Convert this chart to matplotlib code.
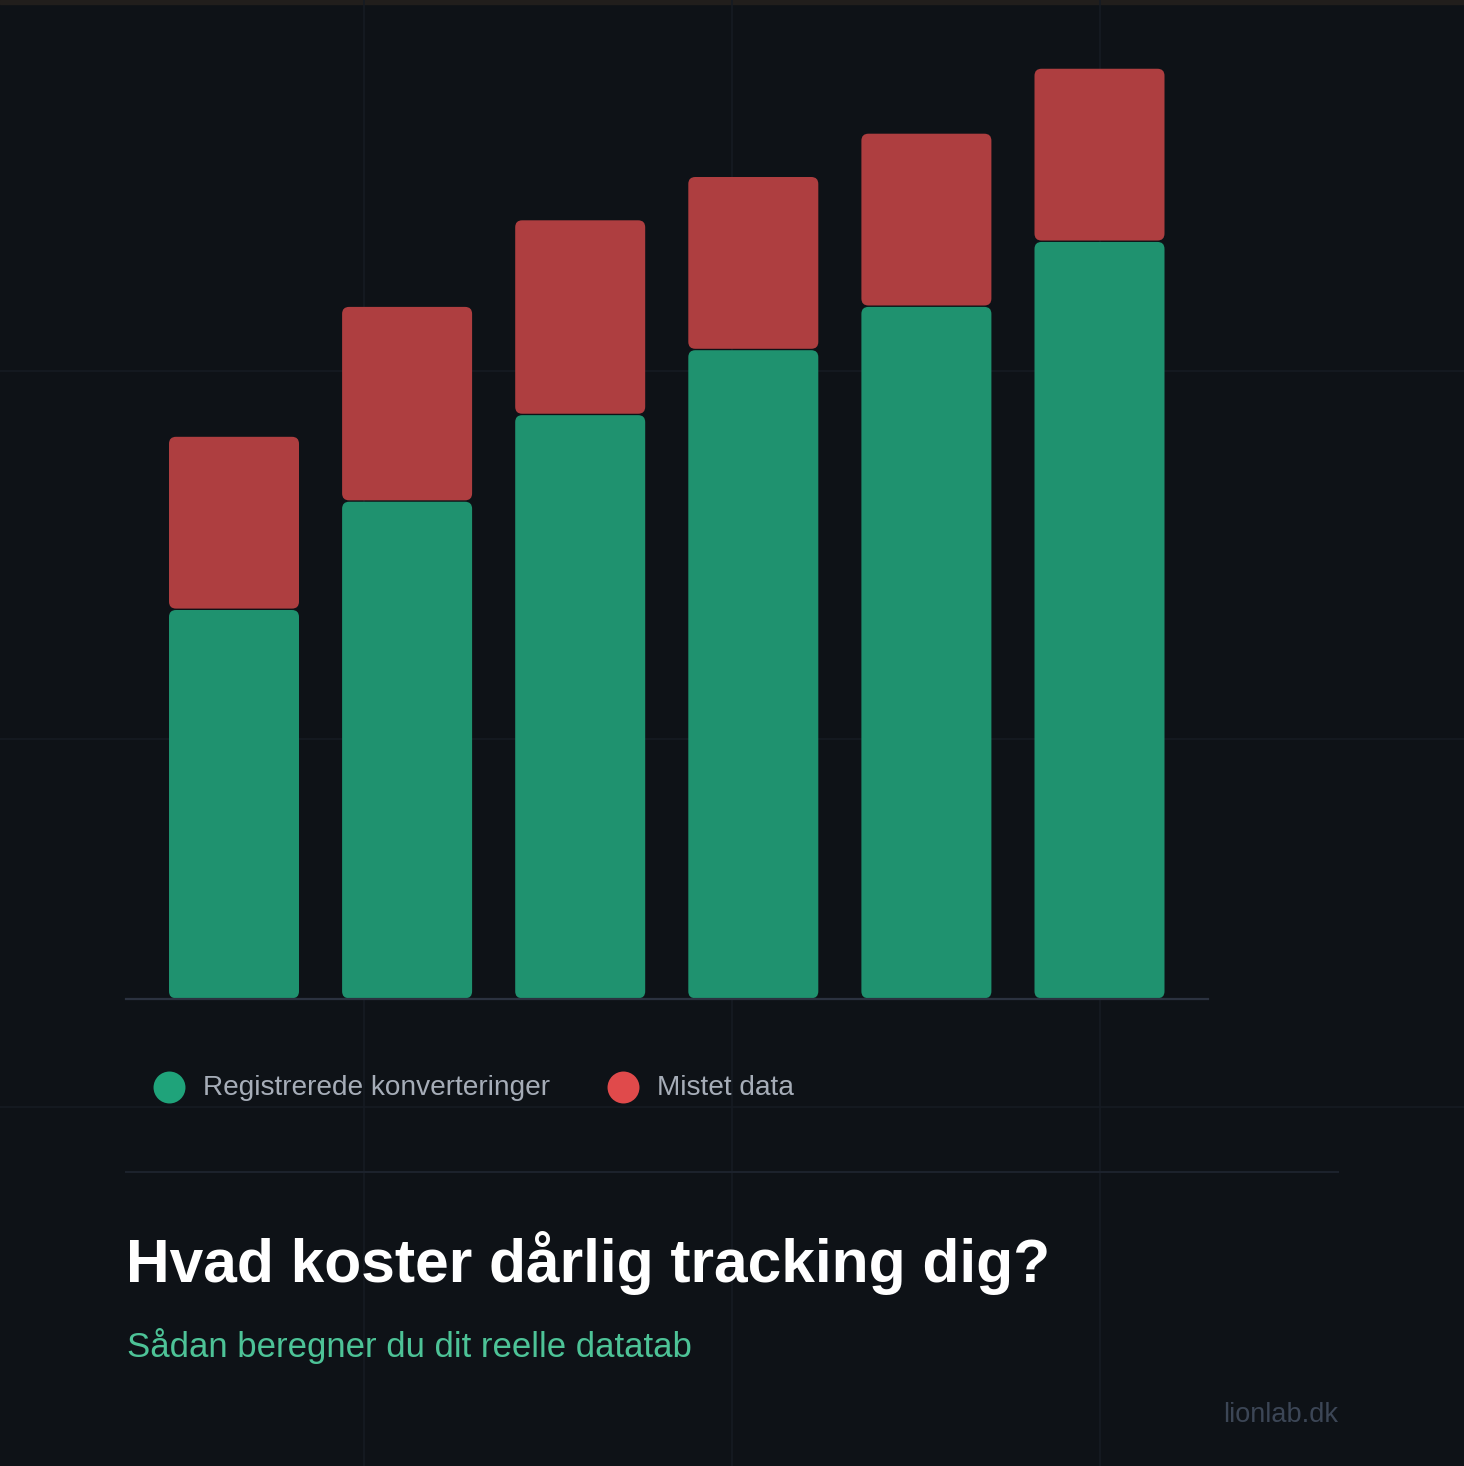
import matplotlib.pyplot as plt
from matplotlib.patches import FancyBboxPatch
from matplotlib.lines import Line2D

# data
periods = ["1", "2", "3", "4", "5", "6"]
registered = [90, 115, 135, 150, 160, 175]
lost = [40, 45, 45, 40, 40, 40]

legend_labels = ["Registrerede konverteringer", "Mistet data"]
title = "Hvad koster dårlig tracking dig?"
subtitle = "Sådan beregner du dit reelle datatab"
brand = "lionlab.dk"

BG = "#0e1217"
GREEN = "#1f926f"
RED = "#ae3e40"
GREEN_DOT = "#1fa37a"
RED_DOT = "#e04a4b"

W, H = 1464, 1466
fig = plt.figure(figsize=(W / 100, H / 100), dpi=100)
fig.patch.set_facecolor(BG)
plt.rcParams["font.family"] = ["Liberation Sans", "DejaVu Sans"]


def fx(px):
    return px / W


def fy(py):
    return 1 - py / H


# background grid + top strip
bg = fig.add_axes([0, 0, 1, 1], zorder=0)
bg.set_xlim(0, W)
bg.set_ylim(H, 0)
bg.axis("off")
for gx in [364, 732, 1100]:
    bg.axvline(gx, color="#161b23", lw=1.2)
for gy in [371, 739, 1107]:
    bg.axhline(gy, color="#161b23", lw=1.2)
bg.axhspan(0, 3.5, color="#211e1c")
bg.plot([126, 1338], [1172, 1172], color="#1c222c", lw=1.5)

# bar chart axes: bottom at 999px, 4.33 px per unit
ax_left, ax_right = 126, 1208
ax_bottom = 999
ymax = 230
px_per_unit = 4.33
ax_top = ax_bottom - ymax * px_per_unit
ax = fig.add_axes([fx(ax_left), fy(ax_bottom), fx(ax_right - ax_left),
                   (ax_bottom - ax_top) / H], zorder=1)
ax.set_facecolor("none")
x_unit = 173.1
x0 = 234
xs = list(range(len(periods)))
ax.set_xlim((ax_left - x0) / x_unit, (ax_right - x0) / x_unit)
ax.set_ylim(0, ymax)
for s in ["top", "right", "left"]:
    ax.spines[s].set_visible(False)
ax.spines["bottom"].set_color("#2b3240")
ax.spines["bottom"].set_linewidth(1.6)
ax.set_xticks([])
ax.set_yticks([])

bw = 130 / x_unit
b1 = ax.bar(xs, registered, width=bw, color=GREEN)
b2 = ax.bar(xs, lost, bottom=registered, width=bw, color=RED)

# rounded corners on every segment
aspect = x_unit / px_per_unit
r = 7 / x_unit
gap = 0.7 / px_per_unit
for bars in (b1, b2):
    for p in bars:
        x, y = p.get_x(), p.get_y()
        w, h = p.get_width(), p.get_height()
        fc = p.get_facecolor()
        p.remove()
        ax.add_patch(FancyBboxPatch((x, y + gap), w, h - 2 * gap,
                                    boxstyle=f"round,pad=0,rounding_size={r}",
                                    mutation_aspect=aspect, fc=fc, ec="none"))

# legend
lg_y = 1087
for cx, tx, lab, col in [(169, 203, legend_labels[0], GREEN_DOT),
                          (623, 657, legend_labels[1], RED_DOT)]:
    bg.add_line(Line2D([cx], [lg_y], marker="o", markersize=23,
                       color=col, markeredgewidth=0))
    bg.text(tx, lg_y + 1, lab, fontsize=20.2, color="#a6adb8",
            va="center", ha="left")

# titles
bg.text(126, 1282, title, fontsize=43.6, fontweight="bold", color="white",
        va="baseline", ha="left")
bg.text(127, 1357, subtitle, fontsize=25, color="#4dc397",
        va="baseline", ha="left")
bg.text(1338, 1422, brand, fontsize=19.5, color="#3c4656",
        va="baseline", ha="right")

fig.savefig("out.png", dpi=100, facecolor=BG)
